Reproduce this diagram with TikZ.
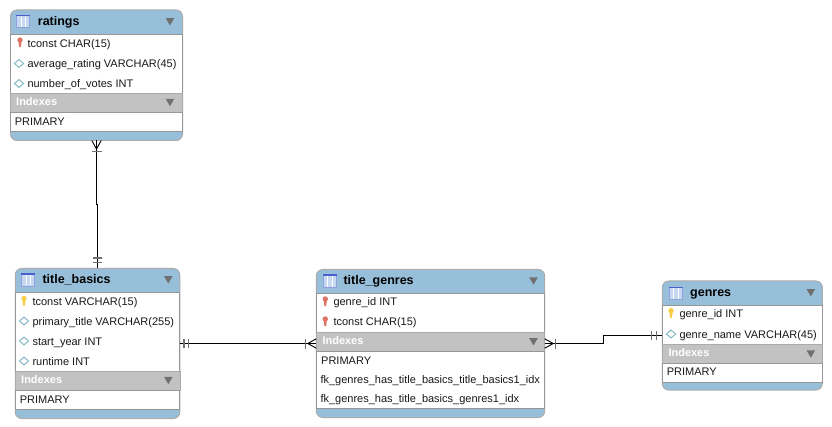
\documentclass[tikz,border=0pt]{standalone}
\usepackage{fontspec}
\setmainfont{Liberation Sans}
\usetikzlibrary{positioning,calc}

\definecolor{headblue}{HTML}{98BFDA}
\definecolor{barGray}{HTML}{C2C2C2}
\definecolor{edgeGray}{HTML}{ABABAB}
\definecolor{sideGray}{HTML}{979797}
\definecolor{triGray}{HTML}{707070}
\definecolor{keyRed}{HTML}{DD7565}
\definecolor{keyYellow}{HTML}{F5CE45}
\definecolor{diaTeal}{HTML}{79B6BF}
\definecolor{iconBlue}{HTML}{4A5FCB}
\definecolor{iconFill}{HTML}{C6D8F0}

\tikzset{
    pics/tableicon/.style = {code={
        \draw[iconBlue!60, fill=iconFill, line width=.8] (-6.5,-6) rectangle (6.5,6.4);
        \fill[iconBlue] (-6.9,-6.6) rectangle (6.9,-5);
        \draw[white, line width=.7] (-2.2,-4.8) -- (-2.2,5.8) (2.2,-4.8) -- (2.2,5.8);
    }},
    pics/keyicon/.style = {code={
        \fill[#1] (0,-2.3) circle (2.7);
        \fill[#1] (-1.6,-1.4) -- (1.6,-1.4) -- (.9,4.8) -- (-.9,4.8) -- cycle;
    }},
    pics/diaicon/.style = {code={
        \draw[diaTeal, fill=white, line width=.9] (-4.6,0) -- (0,-3.9) -- (4.6,0) -- (0,3.9) -- cycle;
    }},
    pics/collapse/.style = {code={
        \fill[triGray] (-4.3,-3.7) -- (4.3,-3.7) -- (0,3.7) -- cycle;
    }},
    pics/crowfoot/.style = {code={
        \draw[black, line width=.9] (0,-4.7) -- (8.5,0) -- (0,4.7);
        \draw[triGray, line width=1.3] (11,-5) -- (11,5);
    }},
    pics/twobars/.style = {code={
        \draw[triGray, line width=1.3] (#1,-4.2) -- (#1,4.2) (#1+4.6,-4.2) -- (#1+4.6,4.2);
    }}
}

\begin{document}
\begin{tikzpicture}[
    x = 1pt, y = -1pt,
    tablebox/.style = {rectangle, draw=edgeGray, fill=headblue, line width=1, rounded corners=6.5pt, anchor=north west, inner sep=0, outer sep=0},
    colbody/.style = {rectangle, draw=sideGray, fill=white, line width=.7, anchor=north west, inner sep=0, outer sep=0},
    idxbar/.style = {rectangle, draw=edgeGray, fill=barGray, line width=.5, inner sep=0, outer sep=0},
    rowtext/.style = {anchor=base west, inner sep=0, text=black!90, font=\fontsize{11}{13}\selectfont},
    idxtext/.style = {anchor=base west, inner sep=0, text=white, font=\fontsize{11}{13}\selectfont\bfseries},
    title/.style = {anchor=base west, inner sep=0, text=black, font=\fontsize{12.5}{14}\selectfont\bfseries},
    link/.style = {black, line width=1}
]
    \useasboundingbox (0,0) rectangle (832,427);

    % ratings
    \node[tablebox, minimum width=172, minimum height=130.5] (ratings) at (10.5,10) {};
    \node[colbody, minimum width=172, minimum height=59] (ratingscols) at (10.5,34.3) {};
    \node[idxbar, minimum width=172, minimum height=19, below=0pt of ratingscols] (ratingsbar) {};
    \node[colbody, minimum width=172, minimum height=19, below=0pt of ratingsbar] (ratingsidx) {};
    \pic at (23.3,21.5) {tableicon};
    \pic at (170,21.8) {collapse};
    \pic at (170,102.5) {collapse};
    \node[title] (ratingsname) at (37.7,26) {ratings};
    \pic at (20,42.3) {keyicon=keyRed};
    \pic at (19,63.5) {diaicon};
    \pic at (19,83.5) {diaicon};
    \node[rowtext] (ratings1) at (27.3,47.3) {tconst CHAR(15)};
    \node[rowtext] (ratings2) at (27.3,67.3) {average\_rating VARCHAR(45)};
    \node[rowtext] (ratings3) at (27.3,87.3) {number\_of\_votes INT};
    \node[idxtext] (ratings4) at (16,105.3) {Indexes};
    \node[rowtext] (ratings5) at (14.7,125.3) {PRIMARY};

    % title_basics
    \node[tablebox, minimum width=164.5, minimum height=150] (basics) at (15.25,268.5) {};
    \node[colbody, minimum width=164.5, minimum height=79] (basicscols) at (15.25,292.3) {};
    \node[idxbar, minimum width=164.5, minimum height=19, below=0pt of basicscols] (basicsbar) {};
    \node[colbody, minimum width=164.5, minimum height=19, below=0pt of basicsbar] (basicsidx) {};
    \pic at (28.3,279.7) {tableicon};
    \pic at (168.3,279.8) {collapse};
    \pic at (168.3,380.5) {collapse};
    \node[title] (basicsname) at (42.3,284) {title\_basics};
    \pic at (24,300.8) {keyicon=keyYellow};
    \pic at (24,321) {diaicon};
    \pic at (24,341) {diaicon};
    \pic at (24,361) {diaicon};
    \node[rowtext] (basics1) at (32.3,305.7) {tconst VARCHAR(15)};
    \node[rowtext] (basics2) at (32.3,325.7) {primary\_title VARCHAR(255)};
    \node[rowtext] (basics3) at (32.3,345.7) {start\_year INT};
    \node[rowtext] (basics4) at (32.3,365.7) {runtime INT};
    \node[idxtext] (basics5) at (21,383.3) {Indexes};
    \node[rowtext] (basics6) at (19.7,403.3) {PRIMARY};

    % title_genres
    \node[tablebox, minimum width=228.4, minimum height=148] (links) at (316.3,269.5) {};
    \node[colbody, minimum width=228.4, minimum height=38.7] (linkscols) at (316.3,293.3) {};
    \node[idxbar, minimum width=228.4, minimum height=19.7, below=0pt of linkscols] (linksbar) {};
    \node[colbody, minimum width=228.4, minimum height=56.6, below=0pt of linksbar] (linksidx) {};
    \pic at (330,280.8) {tableicon};
    \pic at (533.5,281) {collapse};
    \pic at (533.5,341.7) {collapse};
    \node[title] (linksname) at (343.3,285) {title\_genres};
    \pic at (325.3,301.3) {keyicon=keyRed};
    \pic at (325.3,321.3) {keyicon=keyRed};
    \node[rowtext] (links1) at (333.3,306) {genre\_id INT};
    \node[rowtext] (links2) at (333.3,326) {tconst CHAR(15)};
    \node[idxtext] (links3) at (322.3,344.3) {Indexes};
    \node[rowtext] (links4) at (321,364.2) {PRIMARY};
    \node[rowtext] (links5) at (320.3,383.3) {fk\_genres\_has\_title\_basics\_title\_basics1\_idx};
    \node[rowtext] (links6) at (320.3,402.5) {fk\_genres\_has\_title\_basics\_genres1\_idx};

    % genres
    \node[tablebox, minimum width=160, minimum height=109] (genres) at (662.3,281) {};
    \node[colbody, minimum width=160, minimum height=39] (genrescols) at (662.3,305) {};
    \node[idxbar, minimum width=160, minimum height=19.3, below=0pt of genrescols] (genresbar) {};
    \node[colbody, minimum width=160, minimum height=19, below=0pt of genresbar] (genresidx) {};
    \pic at (675.7,293.3) {tableicon};
    \pic at (810.8,292.8) {collapse};
    \pic at (810.8,354) {collapse};
    \node[title] (genresname) at (690,296.7) {genres};
    \pic at (671,313) {keyicon=keyYellow};
    \pic at (671,334) {diaicon};
    \node[rowtext] (genres1) at (679.3,317.7) {genre\_id INT};
    \node[rowtext] (genres2) at (679.3,338) {genre\_name VARCHAR(45)};
    \node[idxtext] (genres3) at (668.3,356) {Indexes};
    \node[rowtext] (genres4) at (666.7,375.7) {PRIMARY};

    % connectors
    \draw[link] (ratings.south) |- ($(ratings.south)!.5!(basics.north)$) -| (basics.north);
    \draw[link] (basics.east) -- (links.west);
    \draw[link] (links.east) -| ($(links.east)!.5!(genres.west)$) |- (genres.west);

    % end marks
    \pic[rotate=-90] at (ratings.south) {crowfoot};
    \pic[rotate=90] at (basics.north) {twobars=6};
    \pic at (basics.east) {twobars=4.3};
    \pic[rotate=180] at (links.west) {crowfoot};
    \pic at (links.east) {crowfoot};
    \pic[rotate=180] at (genres.west) {twobars=6};
\end{tikzpicture}
\end{document}
